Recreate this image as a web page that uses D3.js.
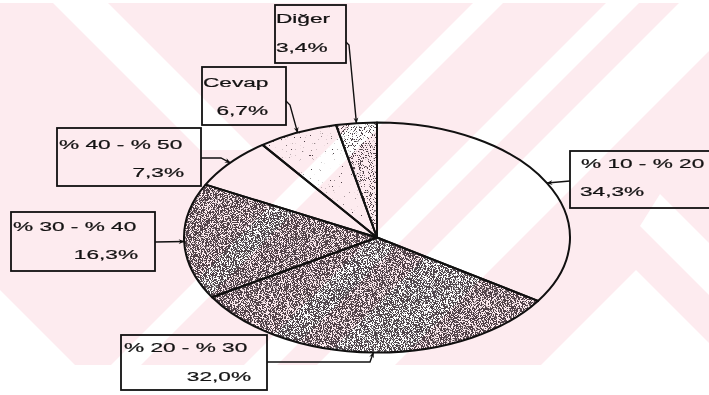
<!DOCTYPE html>
<html>
<head>
<meta charset="utf-8">
<script src="https://cdn.jsdelivr.net/npm/d3@7"></script>
<style>
  html, body { margin: 0; padding: 0; background: #fff; }
  svg { display: block; }
</style>
</head>
<body>
<svg id="chart" width="709" height="395"></svg>
<script>
// Answer categories and their shares (%), clockwise from 12 o'clock
const categories = ["% 10 - % 20", "% 20 - % 30", "% 30 - % 40", "% 40 - % 50", "Cevap", "Diğer"];
const values = [34.3, 32.0, 16.3, 7.3, 6.7, 3.4];

// Slice texture: share of the slice covered by dark grain
const grainCover = [0, 0.72, 0.72, 0, 0.05, 0.4];

// Callout boxes: [x, y, w, h]
const boxes = [
  [570, 151, 142, 57],
  [121, 335, 146, 55],
  [11, 212, 144, 59],
  [57, 128, 144, 58],
  [202, 67, 84, 58],
  [275, 5, 71, 58]
];
// Title position [x, y], value position [x, y, anchor]
const titlePos = [[581, 168], [124, 352], [13, 231], [59, 149], [203, 87], [276, 23]];
const valuePos = [[580, 196, "start"], [251, 381, "end"], [138, 259, "end"], [184, 177, "end"], [268, 115, "end"], [276, 52, "start"]];
// Leader line bends from the box towards the slice
const leaderBends = [
  [[570, 181]],
  [[267, 362], [370, 362]],
  [[155, 242]],
  [[201, 158], [221, 158]],
  [[286, 101], [290, 105]],
  [[346, 42], [349, 45]]
];

const W = 709, H = 395;
const cx = 377, cy = 237.5, rx = 193, ry = 115;
const textStretch = rx / ry;

const svg = d3.select("#chart");
const defs = svg.append("defs");

svg.append("rect").attr("width", W).attr("height", H).attr("fill", "#fff");

// grain filters: dark speckles thresholded out of fractal noise
grainCover.forEach((p, i) => {
  if (!p) return;
  const t = 0.72 - p * 0.38;
  const f = defs.append("filter").attr("id", "grain" + i)
    .attr("x", "-5%").attr("y", "-5%").attr("width", "110%").attr("height", "110%");
  f.append("feTurbulence").attr("type", "fractalNoise").attr("baseFrequency", 0.9)
    .attr("numOctaves", 1).attr("seed", 7 + i).attr("result", "noise");
  f.append("feColorMatrix").attr("in", "noise").attr("type", "matrix")
    .attr("values", `0 0 0 0 0.08  0 0 0 0 0.06  0 0 0 0 0.07  18 0 0 0 ${-18 * t}`)
    .attr("result", "dots");
  f.append("feComposite").attr("in", "dots").attr("in2", "SourceGraphic").attr("operator", "in").attr("result", "clipped");
  const m = f.append("feMerge");
  m.append("feMergeNode").attr("in", "SourceGraphic");
  m.append("feMergeNode").attr("in", "clipped");
});

// arrowhead
defs.append("marker").attr("id", "arrow")
  .attr("viewBox", "0 0 10 10").attr("refX", 9).attr("refY", 5)
  .attr("markerUnits", "userSpaceOnUse").attr("markerWidth", 7).attr("markerHeight", 6)
  .attr("orient", "auto")
  .append("path").attr("d", "M0,1 L10,5 L0,9 L3,5 Z").attr("fill", "#111");

const pie = d3.pie().sort(null).value(d => d)(values);
const arc = d3.arc().innerRadius(0).outerRadius(rx);

// pie drawn on a circle, squashed vertically into the ellipse
const pieG = svg.append("g")
  .attr("transform", `translate(${cx},${cy}) scale(1,${ry / rx})`);

pieG.selectAll("path.slice").data(pie).join("path")
  .attr("class", "slice")
  .attr("d", arc)
  .attr("fill", "#fff")
  .attr("filter", (d, i) => grainCover[i] ? `url(#grain${i})` : null);

pieG.selectAll("path.edge").data(pie).join("path")
  .attr("class", "edge")
  .attr("d", arc)
  .attr("fill", "none")
  .attr("stroke", "#111")
  .attr("stroke-width", 2)
  .attr("stroke-linejoin", "round")
  .attr("vector-effect", "non-scaling-stroke");

// point on the ellipse rim at the middle of each slice
function rimPoint(d) {
  const a = (d.startAngle + d.endAngle) / 2;
  return [cx + rx * Math.sin(a), cy - ry * Math.cos(a)];
}

const fmt = v => d3.format(".1f")(v).replace(".", ",") + "%";

const labels = svg.append("g");
pie.forEach((d, i) => {
  const [bx, by, bw, bh] = boxes[i];
  labels.append("rect")
    .attr("x", bx).attr("y", by).attr("width", bw).attr("height", bh)
    .attr("fill", "none").attr("stroke", "#111").attr("stroke-width", 1.8);

  const pts = leaderBends[i].concat([rimPoint(d)]);
  labels.append("path")
    .attr("d", d3.line()(pts))
    .attr("fill", "none").attr("stroke", "#111").attr("stroke-width", 1.4)
    .attr("marker-end", "url(#arrow)");

  const txt = (s, x, y, anchor) => labels.append("text")
    .attr("transform", `translate(${x},${y}) scale(${textStretch},1)`)
    .attr("text-anchor", anchor)
    .attr("font-family", "'Liberation Sans', Arial, sans-serif")
    .attr("font-size", 13.5)
    .attr("fill", "#141414")
    .attr("stroke", "#141414").attr("stroke-width", 0.22)
    .text(s);
  txt(categories[i], titlePos[i][0], titlePos[i][1], "start");
  txt(fmt(values[i]), valuePos[i][0], valuePos[i][1], valuePos[i][2]);
});

// faint pink diagonal banding over the page, multiplied onto the drawing
const wm = svg.append("g").style("mix-blend-mode", "multiply");
wm.append("clipPath").attr("id", "wmclip")
  .append("rect").attr("x", 0).attr("y", 3).attr("width", W).attr("height", 362);
const pink = "#fdebef";
const band = wm.append("g").attr("clip-path", "url(#wmclip)");
band.append("rect").attr("width", W).attr("height", H).attr("fill", pink);
const white = [
  // upper-left "\" stripe
  [[50, 0], [105, 0], [255, 150], [200, 150]],
  // upper-right "/" stripes
  [[476, 0], [506, 0], [141, 365], [111, 365]],
  [[609, 0], [642, 0], [277, 365], [244, 365]],
  [[682, 0], [760, 0], [395, 365], [317, 365]],
  // lower-right open chevron
  [[636, 270], [731, 365], [541, 365]],
  [[709, 243], [709, 295], [640, 226], [660, 194]],
  // lower-left corner
  [[0, 290], [75, 365], [0, 365]]
];
band.selectAll("polygon").data(white).join("polygon")
  .attr("points", d => d.map(p => p.join(",")).join(" "))
  .attr("fill", "#fff");
</script>
</body>
</html>
